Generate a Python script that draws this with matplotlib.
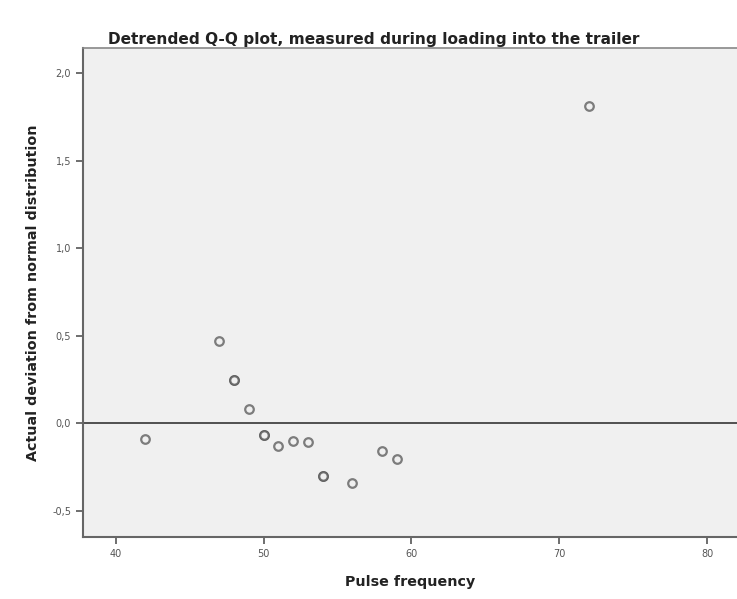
import matplotlib.pyplot as plt
import numpy as np

plt.rcParams['font.family'] = ['DejaVu Sans']

# Pulse frequency vs detrended deviation (ties drawn twice, as in the source)
pulse = [42, 47, 48, 48, 49, 50, 50, 51, 52, 53, 54, 54, 56, 58, 59, 72]
deviation = [-0.09, 0.47, 0.245, 0.245, 0.08, -0.07, -0.07, -0.13, -0.10, -0.11,
             -0.30, -0.30, -0.34, -0.16, -0.205, 1.81]
x_ticks = [40, 50, 60, 70, 80]
y_ticks = [-0.5, 0.0, 0.5, 1.0, 1.5, 2.0]
y_labels = ['-0,5', '0,0', '0,5', '1,0', '1,5', '2,0']

fig = plt.figure(figsize=(7.37, 5.99), dpi=100)
ax = fig.add_axes([0.1126, 0.1035, 0.8874, 0.8165])
ax.set_facecolor('#f0f0f0')

ax.axhline(0, color='#444444', lw=1.3, zorder=1)
ax.scatter(pulse, deviation, s=38, facecolors='#f0f0f0', edgecolors='#555555',
           linewidths=1.6, alpha=0.75, zorder=3)

ax.set_xlim(37.77, 82.03)
ax.set_ylim(-0.65, 2.143)
ax.set_xticks(x_ticks)
ax.set_xticklabels([str(v) for v in x_ticks])
ax.set_yticks(y_ticks)
ax.set_yticklabels(y_labels)
ax.tick_params(labelsize=7, labelcolor='#555555', color='#555555', length=5, width=1.2)

ax.spines['right'].set_visible(False)
ax.spines['top'].set_color('#888888')
ax.spines['top'].set_linewidth(1.2)
for side in ['left', 'bottom']:
    ax.spines[side].set_color('#666666')
    ax.spines[side].set_linewidth(1.5)

ax.set_xlabel('Pulse frequency', fontsize=10.3, fontweight='bold', color='#222222', labelpad=12)
ax.set_ylabel('Actual deviation from normal distribution', fontsize=10.3, fontweight='bold',
              color='#222222', labelpad=9)
fig.text(0.147, 0.927, 'Detrended Q-Q plot, measured during loading into the trailer',
         fontsize=11.1, fontweight='bold', color='#222222')

fig.savefig('out.png', dpi=100)
